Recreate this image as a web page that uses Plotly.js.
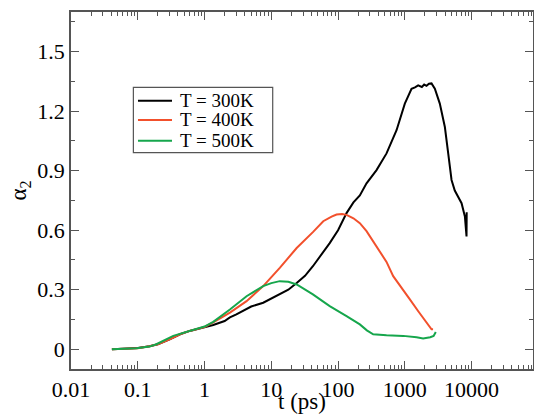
<!DOCTYPE html>
<html>
<head>
<meta charset="utf-8">
<script src="https://cdn.plot.ly/plotly-3.0.1.min.js"></script>
<style>html,body{margin:0;padding:0;background:#fff;}#chart{width:534px;height:414px;}</style>
</head>
<body>
<div id="chart"></div>
<script>
// ---- data ----
const seriesNames = ["T = 300K", "T = 400K", "T = 500K"];
const seriesColors = ["#000000", "#f2502c", "#16a64c"];
const xTickVals = [0.01, 0.1, 1, 10, 100, 1000, 10000];
const xTickText = ["0.01", "0.1", "1", "10", "100", "1000", "10000"];

const t300 = [0.041, 0.06, 0.1, 0.15, 0.2, 0.3, 0.43, 0.6, 1, 1.35, 2, 2.4, 3, 4.26, 5, 7.57, 10, 13.4, 18, 24, 32, 42, 55, 75, 100, 134, 170, 212, 267, 377, 532, 752, 1000, 1260, 1420, 1585, 1800, 1950, 2115, 2300, 2512, 2650, 2818, 3343, 3981, 4467, 5012, 5600, 6310, 7080, 7940, 8400, 8450];
const v300 = [0, 0.002, 0.006, 0.015, 0.025, 0.05, 0.075, 0.092, 0.11, 0.122, 0.142, 0.16, 0.175, 0.205, 0.215, 0.234, 0.255, 0.276, 0.30, 0.334, 0.37, 0.418, 0.47, 0.535, 0.6, 0.686, 0.74, 0.775, 0.836, 0.903, 0.987, 1.104, 1.238, 1.313, 1.32, 1.33, 1.322, 1.334, 1.328, 1.338, 1.34, 1.33, 1.313, 1.238, 1.12, 0.987, 0.853, 0.8, 0.769, 0.736, 0.669, 0.568, 0.69];

const t400 = [0.041, 0.06, 0.1, 0.15, 0.2, 0.3, 0.43, 0.6, 1, 1.35, 2.4, 4.26, 7.57, 13.4, 24, 42, 60, 80, 95, 115, 134, 170, 212, 267, 377, 532, 670, 900, 1190, 1600, 2115, 2512, 2650];
const v400 = [0, 0.002, 0.005, 0.015, 0.025, 0.05, 0.075, 0.092, 0.112, 0.135, 0.184, 0.242, 0.318, 0.41, 0.51, 0.59, 0.645, 0.668, 0.679, 0.682, 0.677, 0.66, 0.635, 0.595, 0.518, 0.44, 0.368, 0.31, 0.251, 0.19, 0.134, 0.1, 0.1];

const t500 = [0.041, 0.06, 0.096, 0.15, 0.19, 0.34, 0.6, 1, 1.35, 2.4, 4.26, 7.57, 10, 13.4, 18, 24, 42, 75, 134, 212, 270, 336, 532, 946, 1500, 1880, 2400, 2700, 2910];
const v500 = [0, 0.001, 0.005, 0.013, 0.025, 0.067, 0.092, 0.114, 0.138, 0.2, 0.267, 0.318, 0.333, 0.343, 0.34, 0.326, 0.276, 0.217, 0.167, 0.125, 0.095, 0.075, 0.07, 0.067, 0.06, 0.054, 0.06, 0.067, 0.087];

const xs = [t300, t400, t500];
const ys = [v300, v400, v500];

const FONT = "'Liberation Serif', 'Times New Roman', serif";
const AX = "#555555";

const traces = xs.map((x, i) => ({
  x: x, y: ys[i], type: "scatter", mode: "lines", name: seriesNames[i],
  line: {color: seriesColors[i], width: 2}, showlegend: false
}));

// manual legend (compact row spacing like the reference)
const legBox = {x0: 0.135, x1: 0.4366, y0: 0.606, y1: 0.789};
const rowY = [0.7515, 0.6975, 0.6395];
const shapes = [{type: "rect", xref: "paper", yref: "paper", x0: legBox.x0, x1: legBox.x1, y0: legBox.y0, y1: legBox.y1,
  line: {color: AX, width: 1.2}, fillcolor: "rgba(255,255,255,0)"}];
const annotations = [];
seriesNames.forEach((n, i) => {
  shapes.push({type: "line", xref: "paper", yref: "paper", x0: 0.145, x1: 0.2186, y0: rowY[i], y1: rowY[i],
    line: {color: seriesColors[i], width: 2}});
  annotations.push({xref: "paper", yref: "paper", x: 0.2323, y: rowY[i], xanchor: "left", yanchor: "middle",
    text: n, showarrow: false, font: {family: FONT, size: 19, color: "#000"}});
});

const layout = {
  width: 534, height: 414,
  margin: {l: 71, r: 1, t: 12, b: 45},
  paper_bgcolor: "#fff", plot_bgcolor: "#fff",
  showlegend: false,
  font: {family: FONT, color: "#000"},
  xaxis: {
    type: "log", range: [-2, 4.92], tickmode: "array", tickvals: xTickVals, ticktext: xTickText,
    ticks: "inside", ticklen: 8, tickwidth: 1.2, tickcolor: AX,
    minor: {dtick: "D1", ticks: "inside", ticklen: 4, tickwidth: 1, tickcolor: AX},
    showline: true, linecolor: AX, linewidth: 1.5, mirror: "ticks",
    showgrid: false, zeroline: false,
    tickfont: {family: FONT, size: 22, color: "#000"},
    title: {text: "t (ps)", font: {family: FONT, size: 23, color: "#000"}, standoff: 0}
  },
  yaxis: {
    range: [-0.1, 1.7], tick0: 0, dtick: 0.3,
    ticks: "inside", ticklen: 8, tickwidth: 1.2, tickcolor: AX,
    minor: {dtick: 0.15, ticks: "inside", ticklen: 4, tickwidth: 1, tickcolor: AX},
    showline: true, linecolor: AX, linewidth: 1.5, mirror: "ticks",
    showgrid: false, zeroline: false,
    tickfont: {family: FONT, size: 22, color: "#000"},
    title: {text: "α<sub>2</sub>", font: {family: FONT, size: 23, color: "#000"}, standoff: 4}
  },
  shapes: shapes,
  annotations: annotations
};

Plotly.newPlot("chart", traces, layout, {displayModeBar: false});
</script>
</body>
</html>
